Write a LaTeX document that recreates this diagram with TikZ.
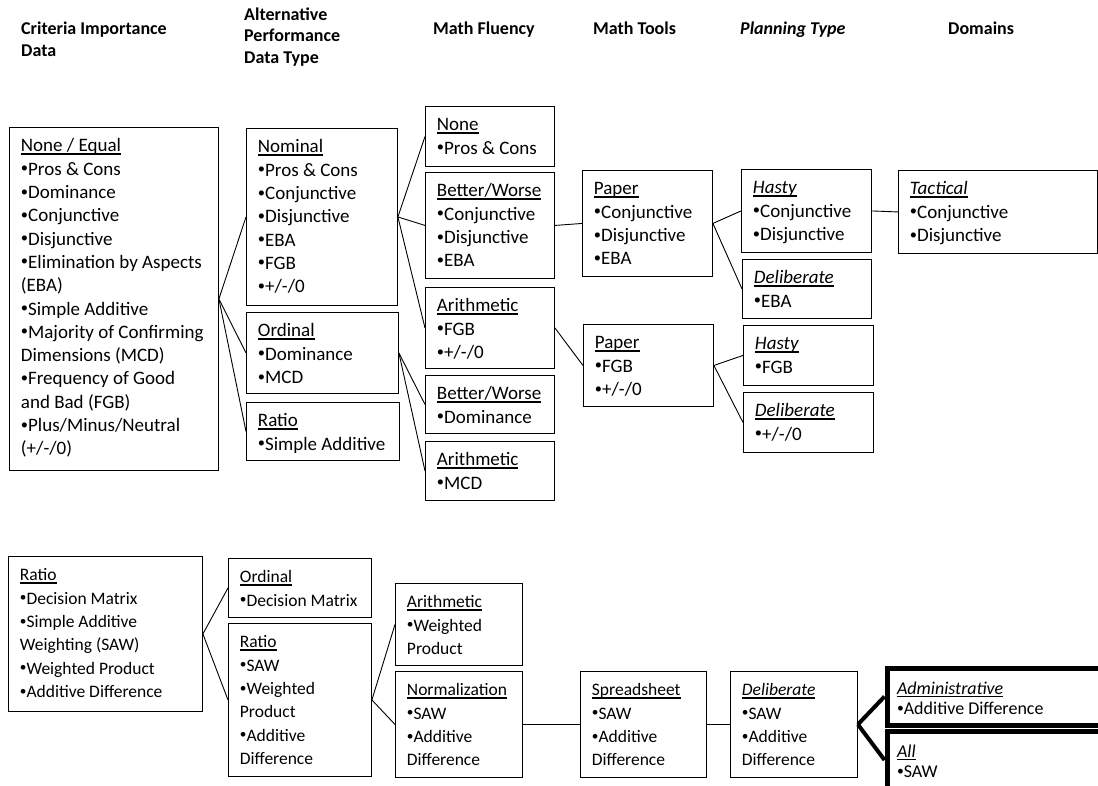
\documentclass[tikz,border=0pt]{standalone}
\usepackage{fontspec}
\setmainfont{Carlito}
\newsavebox\ulbox
\newcommand\ul[1]{\sbox\ulbox{#1}\rlap{\rule[-2.6pt]{\wd\ulbox}{1.1pt}}\usebox\ulbox}
\newcommand\bu{\raisebox{0.13em}{\scalebox{0.76}{•}}}
\newcommand\bt[4][19]{\begin{minipage}[t][#3pt][t]{#2pt}\raggedright\leftskip=11.5pt\fontsize{#1}{23.3}\selectfont\rule{0pt}{24.5pt}#4\end{minipage}}
\newcommand\btx[3]{\begin{minipage}[t][#2pt][t]{#1pt}\raggedright\leftskip=10pt\fontsize{18}{20.3}\selectfont\rule{0pt}{26.5pt}#3\end{minipage}}
\newcommand\hd[1]{\begin{minipage}[t]{200pt}\raggedright\fontsize{18}{21.5}\selectfont\bfseries #1\end{minipage}}
\tikzset{
  bx/.style={draw, line width=0.9pt, inner sep=0pt, anchor=north west},
  bxthick/.style={draw, line width=5pt, inner sep=0pt, anchor=north west},
  hdr/.style={inner sep=0pt, anchor=base west},
  conn/.style={line width=0.9pt},
  connthick/.style={line width=4pt},
}
\begin{document}
\begin{tikzpicture}[x=1pt,y=-1pt]
\useasboundingbox (0,0) rectangle (1098,786);
% headers
\node[hdr] (h1) at (21,35) {\hd{Criteria Importance\\Data}};
\node[hdr] (h2) at (244,20.5) {\hd{Alternative\\Performance\\Data Type}};
\node[hdr] (h3) at (433,35) {\hd{Math Fluency}};
\node[hdr] (h4) at (593,35) {\hd{Math Tools}};
\node[hdr] (h5) at (740,35) {\hd{\itshape Planning Type}};
\node[hdr] (h6) at (948,35) {\hd{Domains}};
% top group
\node[bx] (CI1) at (9,127) {\bt{209}{343}{\ul{None / Equal}\\\bu Pros \& Cons\\\bu Dominance\\\bu Conjunctive\\\bu Disjunctive\\\bu Elimination by Aspects\\(EBA)\\\bu Simple Additive\\\bu Majority of Confirming\\Dimensions (MCD)\\\bu Frequency of Good\\and Bad (FGB)\\\bu Plus/Minus/Neutral\\(+/-/0)}};
\node[bx] (AP1) at (246,128) {\bt{151}{177}{\ul{Nominal}\\\bu Pros \& Cons\\\bu Conjunctive\\\bu Disjunctive\\\bu EBA\\\bu FGB\\\bu +/-/0}};
\node[bx] (AP2) at (246,312) {\bt{152}{81}{\ul{Ordinal}\\\bu Dominance\\\bu MCD}};
\node[bx] (AP3) at (246,402) {\bt{153}{58}{\ul{Ratio}\\\bu Simple Additive}};
\node[bx] (MF1) at (425,106) {\bt{129}{60}{\ul{None}\\\bu Pros \& Cons}};
\node[bx] (MF2) at (425,172) {\bt{129}{106}{\ul{Better/Worse}\\\bu Conjunctive\\\bu Disjunctive\\\bu EBA}};
\node[bx] (MF3) at (425,287) {\bt{129}{81}{\ul{Arithmetic}\\\bu FGB\\\bu +/-/0}};
\node[bx] (MF4) at (425,375) {\bt{129}{58}{\ul{Better/Worse}\\\bu Dominance}};
\node[bx] (MF5) at (425,441) {\bt{129}{59}{\ul{Arithmetic}\\\bu MCD}};
\node[bx] (MT1) at (582,170) {\bt{130}{106}{\ul{Paper}\\\bu Conjunctive\\\bu Disjunctive\\\bu EBA}};
\node[bx] (MT2) at (583,324) {\bt{130}{82}{\ul{Paper}\\\bu FGB\\\bu +/-/0}};
\node[bx] (PT1) at (741,169) {\bt{130}{83}{\ul{\itshape Hasty}\\\bu Conjunctive\\\bu Disjunctive}};
\node[bx] (PT2) at (742,259) {\bt{129}{59}{\ul{\itshape Deliberate}\\\bu EBA}};
\node[bx] (PT3) at (743,325) {\bt{130}{60}{\ul{\itshape Hasty}\\\bu FGB}};
\node[bx] (PT4) at (743,392) {\bt{130}{60}{\ul{\itshape Deliberate}\\\bu +/-/0}};
\node[bx] (D1) at (898,170) {\bt{199}{83}{\ul{\itshape Tactical}\\\bu Conjunctive\\\bu Disjunctive}};
% bottom group
\node[bx] (CI2) at (8,556) {\bt[17.5]{194}{155}{\ul{Ratio}\\\bu Decision Matrix\\\bu Simple Additive\\Weighting (SAW)\\\bu Weighted Product\\\bu Additive Difference}};
\node[bx] (AP4) at (228,558) {\bt[17.5]{143}{59}{\ul{Ordinal}\\\bu Decision Matrix}};
\node[bx] (AP5) at (228,623) {\bt[17.5]{143}{153}{\ul{Ratio}\\\bu SAW\\\bu Weighted\\Product\\\bu Additive\\Difference}};
\node[bx] (MF6) at (395,583) {\bt[17.5]{127}{82}{\ul{Arithmetic}\\\bu Weighted\\Product}};
\node[bx] (MF7) at (395,671) {\bt[17.5]{127}{106}{\ul{Normalization}\\\bu SAW\\\bu Additive\\Difference}};
\node[bx] (MT3) at (580,671) {\bt[17.5]{126}{106}{\ul{Spreadsheet}\\\bu SAW\\\bu Additive\\Difference}};
\node[bx] (PT5) at (730,671) {\bt[17.5]{127}{106}{\ul{\itshape Deliberate}\\\bu SAW\\\bu Additive\\Difference}};
\node[bxthick] (D2) at (884.5,665.5) {\btx{230}{57}{\ul{\itshape Administrative}\\\bu Additive Difference}};
\node[bxthick] (D3) at (884.5,728.5) {\btx{230}{58}{\ul{\itshape All}\\\bu SAW}};
% connectors
\draw[conn] (CI1.east) -- (AP1.west);
\draw[conn] (CI1.east) -- (AP2.west);
\draw[conn] (CI1.east) -- (AP3.west);
\draw[conn] (AP1.east) -- (MF1.west);
\draw[conn] (AP1.east) -- (MF2.west);
\draw[conn] (AP1.east) -- (MF3.west);
\draw[conn] (AP2.east) -- (MF4.west);
\draw[conn] (AP2.east) -- (MF5.west);
\draw[conn] (MF2.east) -- (MT1.west);
\draw[conn] (MF3.east) -- (MT2.west);
\draw[conn] (MT1.east) -- (PT1.west);
\draw[conn] (MT1.east) -- (PT2.west);
\draw[conn] (MT2.east) -- (PT3.west);
\draw[conn] (MT2.east) -- (PT4.west);
\draw[conn] (PT1.east) -- (D1.west);
\draw[conn] (CI2.east) -- (AP4.west);
\draw[conn] (CI2.east) -- (AP5.west);
\draw[conn] (AP5.east) -- (MF6.west);
\draw[conn] (AP5.east) -- (MF7.west);
\draw[conn] (MF7.east) -- (MT3.west);
\draw[conn] (MT3.east) -- (PT5.west);
\draw[connthick] (PT5.east) -- (D2.west);
\draw[connthick] (PT5.east) -- (D3.west);
\end{tikzpicture}
\end{document}
